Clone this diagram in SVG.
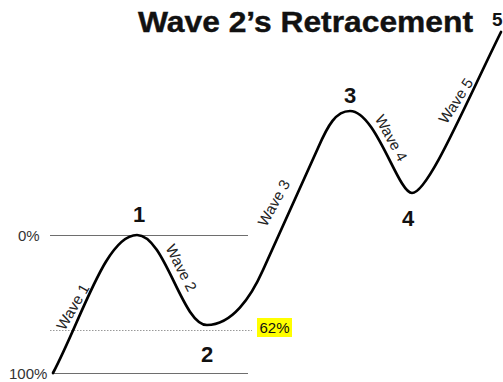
<svg xmlns="http://www.w3.org/2000/svg" width="503" height="382" viewBox="0 0 503 382">
<style>
.t{font-family:"Liberation Sans",Arial,sans-serif;fill:#111}
.num{font-weight:bold;font-size:22px;text-anchor:middle}
.pct{font-size:15px;fill:#333}
.wv{font-size:15px;fill:#222;text-anchor:middle}
.ref{stroke:#6e6e6e;stroke-width:1;fill:none}
</style>
<rect width="503" height="382" fill="#fff"/>
<text class="t" x="138" y="32" font-size="29" font-weight="bold" textLength="335" lengthAdjust="spacingAndGlyphs" stroke="#111" stroke-width="0.4">Wave 2’s Retracement</text>
<g id="levels">
<line class="ref" x1="50" y1="235.5" x2="248" y2="235.5"/>
<line class="ref" x1="52" y1="373.5" x2="248" y2="373.5"/>
<line x1="50" y1="330.5" x2="252" y2="330.5" stroke="#999" stroke-width="1" stroke-dasharray="1.5,1.5"/>
<text class="t pct" x="18" y="241">0%</text>
<text class="t pct" x="9" y="379">100%</text>
<rect x="257" y="318" width="35" height="19" fill="#ffff00"/>
<text class="t" x="274.5" y="333" font-size="15" text-anchor="middle">62%</text>
</g>
<g id="connectors">
<path d="M53,373 C82,318 106,235 137,235 C165,235 182,325 207,325 C232,325 251,297 263,270 L318,148 C328,125 336,111 350,111 C376,111 398,193 412,193 C428,193 465,105 501,32" fill="none" stroke="#000" stroke-width="2.7" stroke-linecap="round" stroke-linejoin="round"/>
</g>
<g id="node1"><text class="t num" x="139" y="222">1</text></g>
<g id="node2"><text class="t num" x="207" y="362">2</text></g>
<g id="node3"><text class="t num" x="350" y="103">3</text></g>
<g id="node4"><text class="t num" x="408" y="226">4</text></g>
<g id="node5"><text class="t" x="492" y="26" font-size="19" font-weight="bold">5</text></g>
<g id="labels">
<text class="t wv" transform="translate(73,307) rotate(-60)" y="5">Wave 1</text>
<text class="t wv" transform="translate(181,268) rotate(63)" y="5">Wave 2</text>
<text class="t wv" transform="translate(274,203) rotate(-61)" y="5">Wave 3</text>
<text class="t wv" transform="translate(391,138) rotate(61)" y="5">Wave 4</text>
<text class="t wv" transform="translate(456,101) rotate(-57)" y="5">Wave 5</text>
</g>
</svg>
